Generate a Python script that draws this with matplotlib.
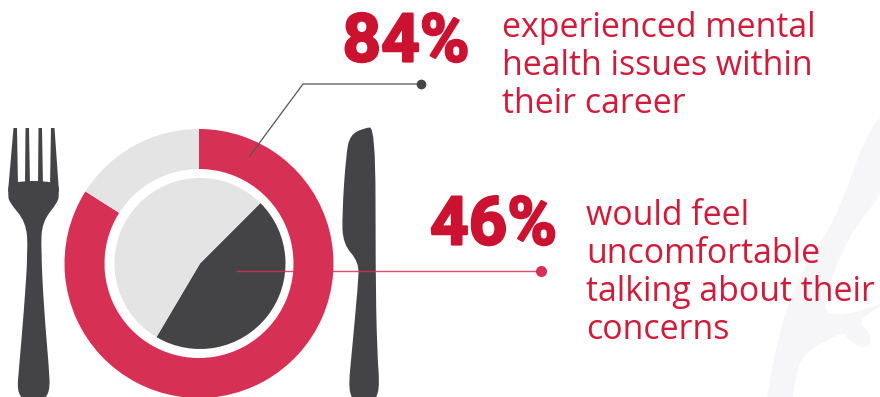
import matplotlib
matplotlib.use('Agg')
import matplotlib.pyplot as plt
import matplotlib.patheffects as pe
from matplotlib.patches import PathPatch
from matplotlib.path import Path

RED_TEXT = '#CE1C3A'
RED = '#D63054'
DARK = '#444446'
LIGHT = '#E4E4E5'

# survey shares, in percent
ring_values = [84, 16]
pie_values = [46, 54]
big_labels = ['84%', '46%']
top_lines = ['experienced mental', 'health issues within', 'their career']
bottom_lines = ['would feel', 'uncomfortable', 'talking about their', 'concerns']


def smooth_shape(points, color, zorder=1):
    # closed outline through the points, rounded with quadratic segments
    verts = []
    codes = []
    n = len(points)
    for i in range(n):
        p = points[i]
        q = points[(i + 1) % n]
        mid = ((p[0] + q[0]) / 2, (p[1] + q[1]) / 2)
        if i == 0:
            last = points[-1]
            verts.append(((last[0] + p[0]) / 2, (last[1] + p[1]) / 2))
            codes.append(Path.MOVETO)
        verts += [p, mid]
        codes += [Path.CURVE3, Path.CURVE3]
    verts.append(verts[0])
    codes.append(Path.CLOSEPOLY)
    ax.add_patch(PathPatch(Path(verts, codes), fc=color, ec='none', zorder=zorder))


fig = plt.figure(figsize=(8.8, 3.97), dpi=100)
ax = fig.add_axes([0, 0, 1, 1])
ax.set_xlim(0, 880)
ax.set_ylim(397, 0)
ax.axis('off')

# faint brush mark behind everything
smooth_shape([(884, 108), (862, 145), (845, 195), (827, 233), (797, 278), (777, 340),
              (762, 425), (790, 425), (797, 362), (815, 346), (845, 331), (847, 340),
              (868, 350), (872, 334), (856, 320), (895, 298), (860, 312), (826, 316),
              (824, 298), (848, 236), (885, 190), (900, 150)], '#F6F6F8', zorder=0)

# plate: outer ring and inner pie
ax.pie(ring_values, colors=[RED, LIGHT], startangle=-90, center=(199, 263.5), radius=134.5,
       wedgeprops=dict(width=40, linewidth=0), frame=True)
ax.pie(pie_values, colors=[DARK, LIGHT], startangle=-45, center=(200, 263.5), radius=85.5,
       wedgeprops=dict(linewidth=0), frame=True)
ax.set_xlim(0, 880)
ax.set_ylim(397, 0)
ax.axis('off')

# fork: tines first, then the rounded body
ax.fill([13.5, 17, 18, 8], [128, 128, 186, 192], color=DARK, lw=0, zorder=3)
ax.fill([25.5, 29, 30, 25], [128, 128, 186, 186], color=DARK, lw=0, zorder=3)
ax.fill([38.5, 42, 43, 38], [128, 128, 186, 186], color=DARK, lw=0, zorder=3)
ax.fill([51, 54.5, 59, 50], [128, 128, 192, 186], color=DARK, lw=0, zorder=3)
smooth_shape([(9, 181), (58, 181), (59, 194), (58, 202), (42, 222), (41, 250), (44, 310),
              (49, 368), (50, 392), (42, 401), (25, 401), (17, 392), (19, 368), (24, 310),
              (28, 250), (26, 222), (9, 202), (8, 194)], DARK, zorder=3)

# knife
smooth_shape([(375.5, 127), (375.5, 270), (377, 350), (380, 392), (372, 402), (356, 402), (348, 392),
              (352, 350), (358, 285), (359, 262), (343, 244), (342, 215), (346, 155), (350, 135),
              (364, 128)], DARK, zorder=3)

# leader lines
ax.plot([249, 303, 421], [157, 84, 84], color='#555557', lw=0.9, zorder=4)
ax.plot([421], [84], 'o', color=DARK, ms=7, mew=0, zorder=4)
ax.plot([237, 541], [271, 271], color=RED, lw=1.0, alpha=0.85, zorder=4)
ax.plot([541], [271], 'o', color=RED, ms=8, mew=0, zorder=4)

# headline numbers, thickened a little with a stroke
stroke = [pe.withStroke(linewidth=1.6, foreground='#CB1230')]
ax.text(406, 61.5, big_labels[0], fontsize=48.5, family='Roboto', weight='bold',
        color='#CB1230', ha='center', va='baseline', path_effects=stroke)
ax.text(493.5, 244.5, big_labels[1], fontsize=48.5, family='Roboto', weight='bold',
        color='#CB1230', ha='center', va='baseline', path_effects=stroke)

for i, line in enumerate(top_lines):
    ax.text(502, 37 + i * 38, line, fontsize=24.4, family='Open Sans', color=RED_TEXT,
            va='baseline')
for i, line in enumerate(bottom_lines):
    ax.text(586, 225 + i * 38, line, fontsize=24.4, family='Open Sans', color=RED_TEXT,
            va='baseline')

fig.savefig('out.png', dpi=100)
